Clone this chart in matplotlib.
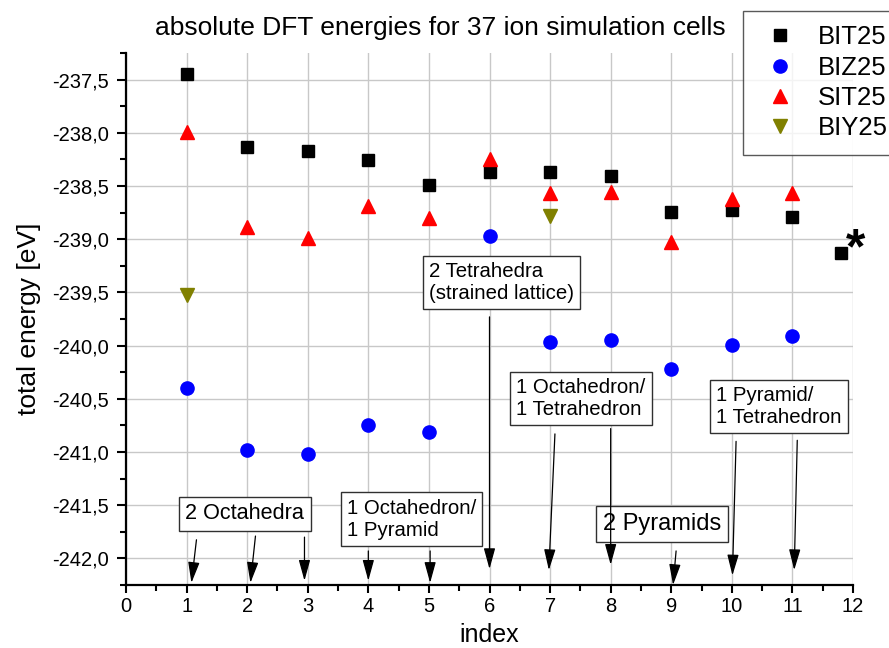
import matplotlib
matplotlib.use("Agg")
import matplotlib.pyplot as plt
from matplotlib.ticker import MultipleLocator, FuncFormatter

plt.rcParams['font.family'] = ['Liberation Sans', 'DejaVu Sans']

# ---- data ----
bit_x = [1, 2, 3, 4, 5, 6, 7, 8, 9, 10, 11, 11.8]
bit_y = [-237.45, -238.13, -238.17, -238.26, -238.49, -238.37, -238.37,
         -238.41, -238.74, -238.73, -238.79, -239.13]
biz_x = [1, 2, 3, 4, 5, 6, 7, 8, 9, 10, 11]
biz_y = [-240.40, -240.98, -241.02, -240.75, -240.81, -238.97, -239.97,
         -239.95, -240.22, -239.99, -239.91]
sit_x = [1, 2, 3, 4, 5, 6, 7, 8, 9, 10, 11]
sit_y = [-237.99, -238.89, -238.99, -238.69, -238.80, -238.25, -238.57,
         -238.56, -239.03, -238.62, -238.57]
biy_x = [1, 7]
biy_y = [-239.52, -238.78]

# annotation texts and the indices they point to
box_texts = ["2 Octahedra", "1 Octahedron/\n1 Pyramid",
             "2 Tetrahedra\n(strained lattice)", "1 Octahedron/\n1 Tetrahedron",
             "2 Pyramids", "1 Pyramid/\n1 Tetrahedron"]
box_targets = [[1, 2, 3], [4, 5], [6], [7, 8], [9], [10, 11]]

# ---- layout ----
box_pos = [(1.96, -241.58), (4.71, -241.63), (6.20, -239.405),
           (7.51, -240.50), (8.85, -241.68), (10.78, -240.57)]
box_fs = [15.6, 14.7, 14.7, 14.7, 17, 14.7]
arrow_start = {1: (1.163, -241.825), 2: (2.137, -241.79), 3: (2.946, -241.80),
               4: (4.0, -241.93), 5: (5.02, -241.93), 6: (6.0, -239.73),
               7: (7.08, -240.83), 8: (8.0, -240.78), 9: (9.08, -241.93),
               10: (10.07, -240.90), 11: (11.08, -240.89)}
arrow_tip = {1: (1.08, -242.23), 2: (2.054, -242.23), 3: (2.946, -242.21),
             4: (4.0, -242.21), 5: (5.02, -242.23), 6: (6.0, -242.10),
             7: (6.98, -242.11), 8: (8.0, -242.06), 9: (9.03, -242.25),
             10: (10.01, -242.16), 11: (11.03, -242.11)}

fig = plt.figure(figsize=(8.89, 6.48), dpi=100)
ax = fig.add_axes([126/889, 63/648, 727/889, 532/648])

ax.plot(bit_x, bit_y, 's', color='black', markersize=8.5, label='BIT25', zorder=5)
ax.plot(biz_x, biz_y, 'o', color='#0000ff', markersize=9.5, label='BIZ25', zorder=5)
ax.plot(sit_x, sit_y, '^', color='#ff0000', markersize=10, label='SIT25', zorder=5)
ax.plot(biy_x, biy_y, 'v', color='#808000', markersize=10, label='BIY25', zorder=5)

ax.set_xlim(0, 12)
ax.set_ylim(-242.25, -237.25)
ax.xaxis.set_major_locator(MultipleLocator(1))
ax.xaxis.set_minor_locator(MultipleLocator(0.5))
ax.yaxis.set_major_locator(MultipleLocator(0.5))
ax.yaxis.set_minor_locator(MultipleLocator(0.25))
ax.yaxis.set_major_formatter(FuncFormatter(lambda v, p: f"{v:.1f}".replace('.', ',')))
ax.xaxis.set_major_formatter(FuncFormatter(lambda v, p: f"{v:.0f}"))

ax.grid(True, which='major', color='#c8c8c8', lw=1.0, zorder=0)
ax.set_axisbelow(True)
for s in ['top', 'right']:
    ax.spines[s].set_visible(False)
for s in ['left', 'bottom']:
    ax.spines[s].set_linewidth(1.6)
ax.tick_params(which='major', direction='out', length=6.5, width=1.5, labelsize=14.5, pad=6)
ax.tick_params(axis='x', which='major', labelsize=14.5, length=6, pad=2.5)
ax.tick_params(which='minor', direction='out', length=4, width=1.5)

ax.set_xlabel('index', fontsize=18, va='bottom')
ax.xaxis.set_label_coords((126 + 853) / 2 / 889, 0.001, transform=fig.transFigure)
ax.set_ylabel('total energy [eV]', fontsize=19, labelpad=8)
fig.text(440/889, 1 - 28/648, 'absolute DFT energies for 37 ion simulation cells',
         fontsize=19, ha='center', va='center')

for txt, pos, fs, targets in zip(box_texts, box_pos, box_fs, box_targets):
    ax.text(pos[0], pos[1], txt, fontsize=fs, ha='center', va='center',
            multialignment='left', zorder=6,
            bbox=dict(boxstyle='square,pad=0.3', fc='white', ec='#303030', lw=1.0))
    for t in targets:
        ax.annotate('', xy=arrow_tip[t], xytext=arrow_start[t], zorder=7,
                    arrowprops=dict(arrowstyle='-|>,head_length=0.8,head_width=0.22',
                                    color='black', lw=0.9, mutation_scale=16,
                                    shrinkA=0, shrinkB=0))

ax.text(12.05, -239.1, '*', fontsize=36, fontweight='bold', ha='center',
        va='center', clip_on=False)

leg = ax.legend(loc='upper left', bbox_to_anchor=(743/889, 1 - 11/648),
                bbox_transform=fig.transFigure, fontsize=18.5, frameon=True,
                fancybox=False, borderpad=0.55, handlelength=1.78,
                handletextpad=0.59, labelspacing=0.25, borderaxespad=0)
leg.get_frame().set_edgecolor('#303030')
leg.get_frame().set_linewidth(1.0)

fig.savefig('out.png', dpi=100)
